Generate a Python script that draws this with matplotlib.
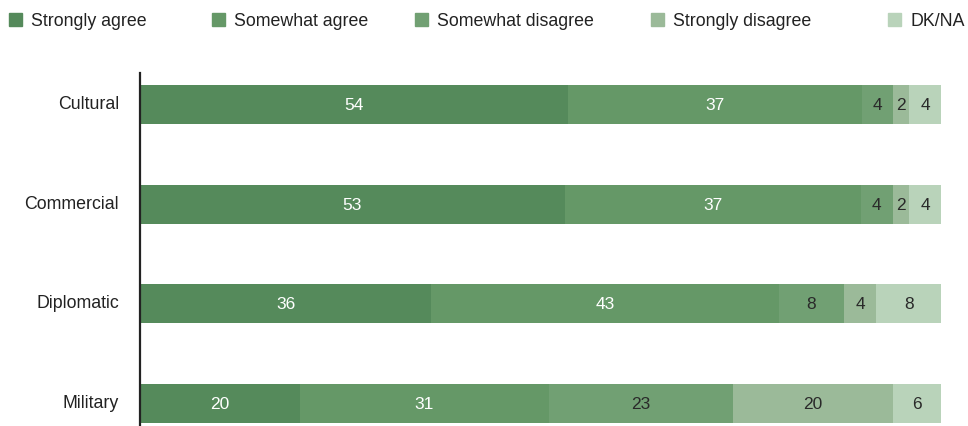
import numpy as np
import matplotlib.pyplot as plt
from matplotlib.patches import Rectangle
from matplotlib.transforms import ScaledTranslation

plt.rcParams["font.family"] = ["Liberation Sans", "DejaVu Sans"]

categories = ["Cultural", "Commercial", "Diplomatic", "Military"]
responses = ["Strongly agree", "Somewhat agree", "Somewhat disagree",
             "Strongly disagree", "DK/NA"]

strongly_agree = [54, 53, 36, 20]
somewhat_agree = [37, 37, 43, 31]
somewhat_disagree = [4, 4, 8, 23]
strongly_disagree = [2, 2, 4, 20]
dk_na = [4, 4, 8, 6]

colors = ["#558a5b", "#659867", "#71a073", "#9bba99", "#b9d3ba"]
label_colors = ["white", "white", "#2a2a2a", "#2a2a2a", "#2a2a2a"]

series = np.array([strongly_agree, somewhat_agree, somewhat_disagree,
                   strongly_disagree, dk_na], dtype=float)
# each row of the survey is stretched to the full width
shares = series / series.sum(axis=0) * 100

fig = plt.figure(figsize=(9.68, 4.27), dpi=100)
ax = fig.add_axes([140 / 968, 0, (941 - 140) / 968, (427 - 74) / 427])

y = np.arange(len(categories))
left = np.zeros(len(categories))
for i in range(len(responses)):
    ax.barh(y, shares[i], left=left, height=0.39, color=colors[i],
            linewidth=0)
    for j in range(len(categories)):
        ax.text(left[j] + shares[i][j] / 2, y[j], f"{series[i][j]:.0f}",
                ha="center", va="center", fontsize=12.5,
                color=label_colors[i])
    left += shares[i]

ax.set_xlim(0, 100)
ax.set_ylim(3.225, -0.315)
ax.set_yticks(y)
ax.set_yticklabels(categories, fontsize=12.8, color="#222222")
ax.tick_params(axis="y", length=0, pad=15)
# nudge the category names up a little
lift = ScaledTranslation(0, 3 / 100, fig.dpi_scale_trans)
for lbl in ax.get_yticklabels():
    lbl.set_transform(lbl.get_transform() + lift)
ax.set_xticks([])
for side in ["top", "right", "bottom"]:
    ax.spines[side].set_visible(False)
ax.spines["left"].set_color("#222222")
ax.spines["left"].set_linewidth(1.6)

# legend row across the top
legend_x = [9, 212, 415, 651, 888]
for x, name, c in zip(legend_x, responses, colors):
    fig.patches.append(Rectangle((x / 968, (427 - 27) / 427), 13 / 968,
                                 13 / 427, transform=fig.transFigure,
                                 color=c))
    fig.text((x + 22) / 968, (427 - 21) / 427, name, fontsize=12.8,
             va="center", ha="left", color="#222222")

fig.savefig("out.png", dpi=100)
